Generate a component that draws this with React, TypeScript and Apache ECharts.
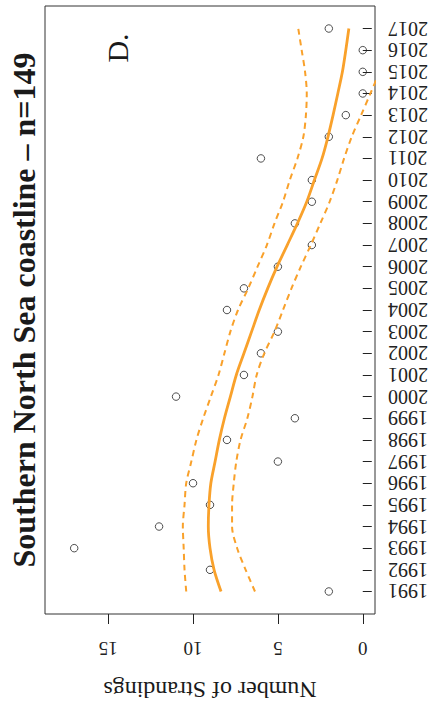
import React, { useEffect, useRef } from "react";
import * as echarts from "echarts";

const years = [1991,1992,1993,1994,1995,1996,1997,1998,1999,2000,2001,2002,2003,2004,2005,2006,2007,2008,2009,2010,2011,2012,2013,2014,2015,2016,2017];
const strandings = [2,9,17,12,9,10,5,8,4,11,7,6,5,8,7,5,3,4,3,3,6,2,1,0,0,0,2];
const fitted = [8.35,8.76,9.0,9.1,9.06,8.95,8.7,8.45,8.15,7.8,7.45,7.0,6.55,6.1,5.6,5.05,4.45,3.85,3.3,2.85,2.4,2.05,1.75,1.47,1.2,1.0,0.82];
const upperCI = [10.4,10.5,10.55,10.6,10.5,10.4,10.1,9.8,9.4,8.95,8.5,8.15,7.8,7.35,6.75,6.2,5.65,5.2,4.7,4.3,3.85,3.5,3.35,3.3,3.4,3.6,3.8];
const lowerCI = [6.35,6.9,7.4,7.7,7.7,7.6,7.45,7.2,6.8,6.5,6.25,5.8,5.2,4.7,4.2,3.65,3.06,2.5,1.95,1.5,1.1,0.65,0.1,-0.45,-1.0,-1.6,-2.2];
const countTicks = [0,5,10,15];
const titleText = "Southern North Sea coastline – n=149";
const panelLabel = "D.";
const axisTitle = "Number of Strandings";

const ORANGE = "#F9A12B";
const SERIF = '"Liberation Serif", "Times New Roman", serif';

export default function App() {
  const ref = useRef<HTMLDivElement>(null);
  useEffect(() => {
    if (!ref.current) return;
    const chart = echarts.init(ref.current, null, { renderer: "svg" });
    const pts = (vals: number[]) => years.map((y, i) => [vals[i], y]);
    chart.setOption({
      animation: false,
      backgroundColor: "#ffffff",
      textStyle: { fontFamily: SERIF },
      grid: {
        left: 45, top: 6, right: 60, bottom: 92,
        show: true, borderColor: "#333", borderWidth: 1, backgroundColor: "transparent",
      },
      xAxis: {
        type: "value",
        inverse: true,
        min: -0.72,
        max: 18.72,
        position: "bottom",
        splitLine: { show: false },
        axisLine: { show: false },
        axisTick: { show: true, customValues: countTicks, length: 10, lineStyle: { color: "#222", width: 1 } },
        axisLabel: {
          customValues: countTicks,
          rotate: 180,
          margin: 25,
          fontSize: 19,
          color: "#222",
          fontFamily: SERIF,
          formatter: (v: number) => String(v),
        },
      },
      yAxis: {
        type: "value",
        position: "right",
        min: 1989.96,
        max: 2018.04,
        splitLine: { show: false },
        axisLine: { show: false },
        axisTick: { show: true, customValues: years, length: 9, lineStyle: { color: "#222", width: 1 } },
        axisLabel: {
          customValues: years,
          rotate: 180,
          margin: 13,
          fontSize: 20,
          color: "#222",
          fontFamily: SERIF,
          formatter: (v: number) => String(v),
        },
      },
      series: [
        {
          type: "line",
          data: pts(upperCI),
          smooth: 0.3,
          symbol: "none",
          clip: true,
          lineStyle: { color: ORANGE, width: 2, type: [6, 4.5] },
        },
        {
          type: "line",
          data: pts(lowerCI),
          smooth: 0.3,
          symbol: "none",
          clip: true,
          lineStyle: { color: ORANGE, width: 2, type: [6, 4.5] },
        },
        {
          type: "line",
          data: pts(fitted),
          smooth: 0.3,
          symbol: "none",
          clip: true,
          lineStyle: { color: ORANGE, width: 2.8 },
        },
        {
          type: "scatter",
          data: pts(strandings),
          symbol: "circle",
          symbolSize: 7.5,
          itemStyle: { color: "transparent", borderColor: "#222", borderWidth: 1 },
        },
      ],
      graphic: [
        {
          type: "text",
          x: 24,
          y: 310,
          rotation: Math.PI / 2,
          style: {
            text: titleText,
            fontFamily: SERIF,
            fontWeight: "bold",
            fontSize: 32,
            fill: "#1a1a1a",
            align: "center",
            verticalAlign: "middle",
            textAlign: "center",
            textVerticalAlign: "middle",
          },
        },
        {
          type: "text",
          x: 117,
          y: 48,
          rotation: Math.PI / 2,
          style: {
            text: panelLabel,
            fontFamily: SERIF,
            fontSize: 30,
            fill: "#1a1a1a",
            align: "center",
            verticalAlign: "middle",
            textAlign: "center",
            textVerticalAlign: "middle",
          },
        },
        {
          type: "text",
          x: 210,
          y: 690,
          rotation: Math.PI,
          style: {
            text: axisTitle,
            fontFamily: SERIF,
            fontSize: 24,
            fill: "#1a1a1a",
            align: "center",
            verticalAlign: "middle",
            textAlign: "center",
            textVerticalAlign: "middle",
          },
        },
      ],
    });
    return () => chart.dispose();
  }, []);
  return (
    <div
      ref={ref}
      style={{ position: "fixed", left: 0, top: 0, width: 435, height: 706, background: "#fff" }}
    />
  );
}
